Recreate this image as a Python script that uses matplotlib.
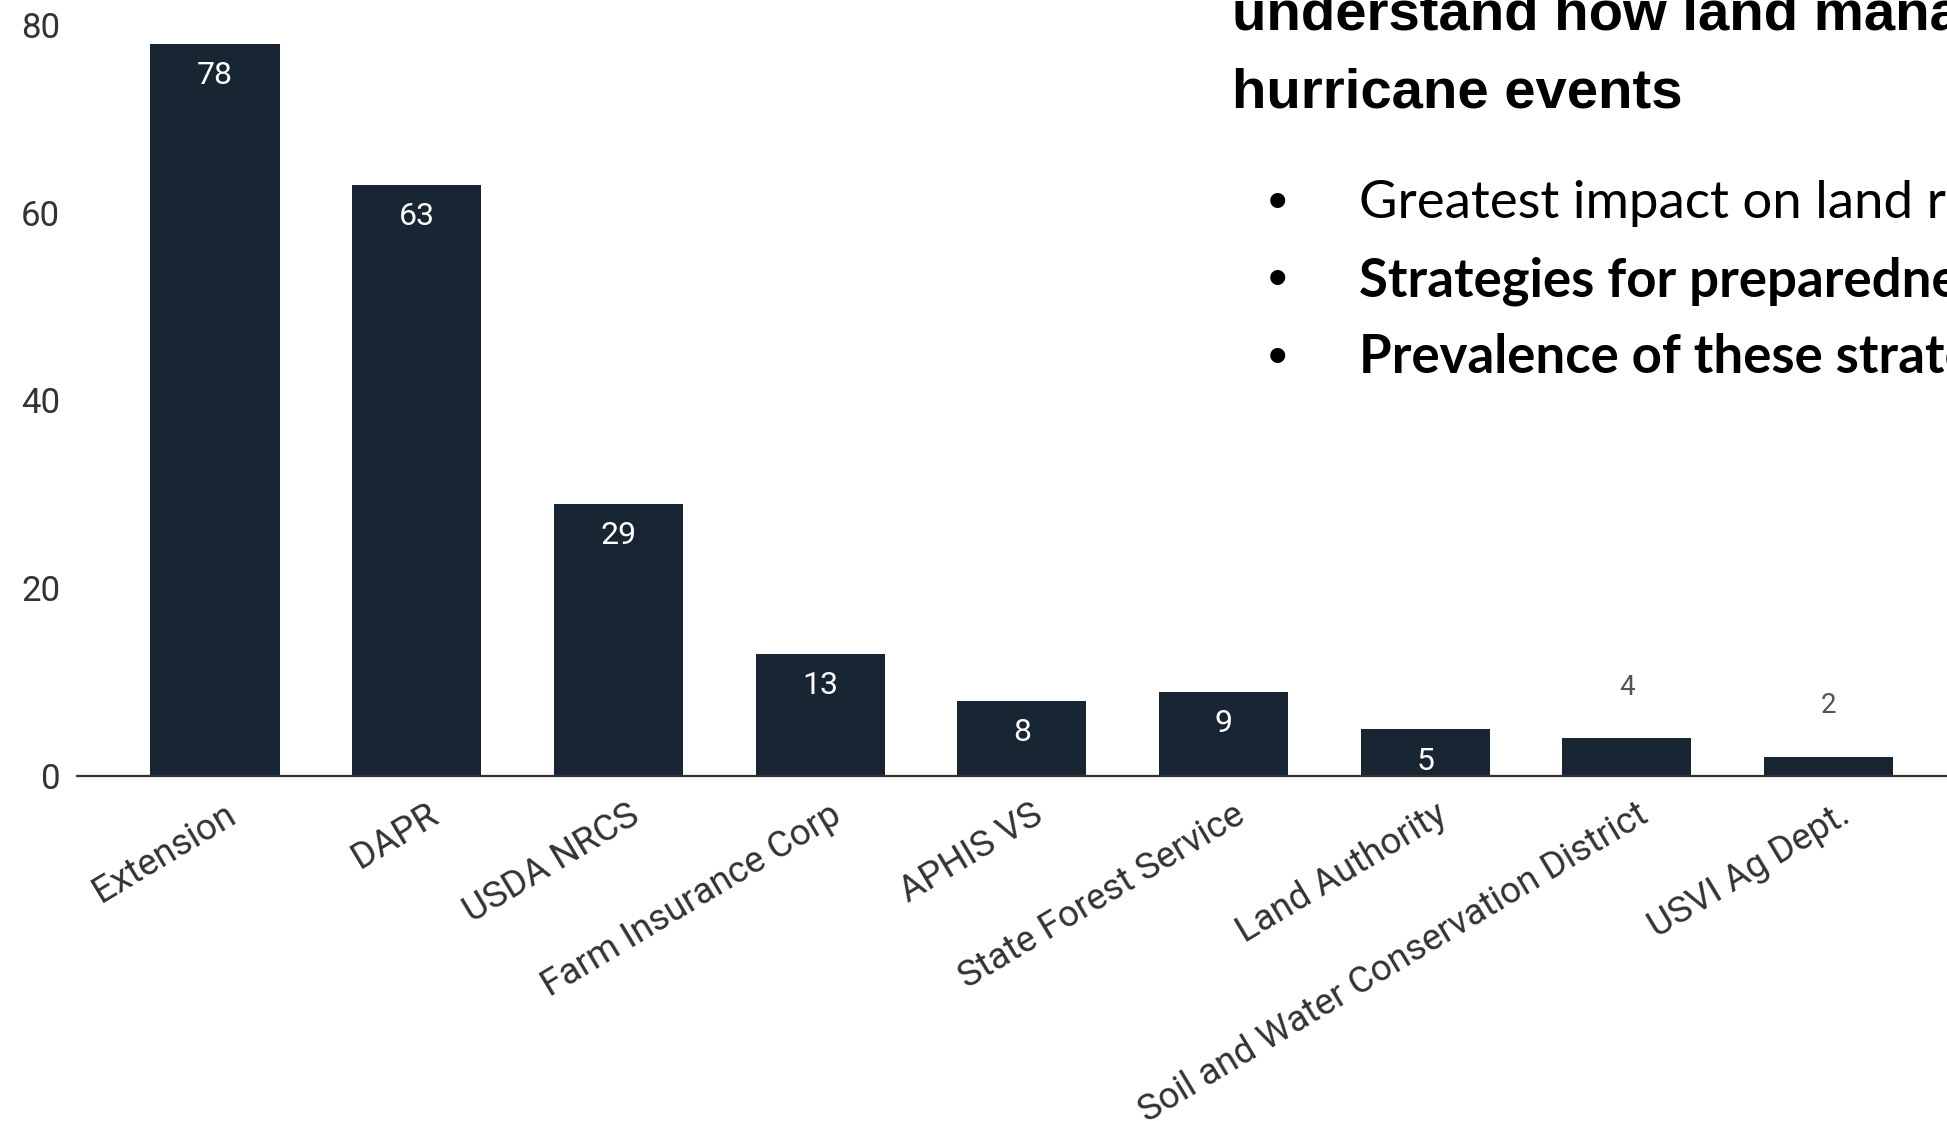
import matplotlib
matplotlib.use('Agg')
import matplotlib.pyplot as plt
import matplotlib.transforms as mtransforms

# Chart data
agencies = ['Extension', 'DAPR', 'USDA NRCS', 'Farm Insurance Corp', 'APHIS VS',
            'State Forest Service', 'Land Authority', 'Soil and Water Conservation District',
            'USVI Ag Dept.']
counts = [78, 63, 29, 13, 8, 9, 5, 4, 2]
y_ticks = [0, 20, 40, 60, 80]

# Slide text to the right of the chart
title_lines = ['understand how land managers prepare for', 'hurricane events']
bullets = ['Greatest impact on land resources',
           'Strategies for preparedness and recovery',
           'Prevalence of these strategies']
bullet_bold = [False, True, True]

W, H = 1947, 1121
fig = plt.figure(figsize=(W / 100, H / 100), dpi=100)
fig.patch.set_facecolor('white')

bar_color = '#182634'
text_color = '#333333'

# axes: left edge at the baseline start, bottom at the zero line
ax = fig.add_axes([77 / W, 1 - 776 / H, 1 - 77 / W, 776 / H])
x = list(range(len(agencies)))
ax.bar(x, counts, width=0.64, color=bar_color)

ax.set_xlim(-0.684, 8.587)
ax.set_ylim(0, 82.66)

for sp in ['top', 'right', 'left']:
    ax.spines[sp].set_visible(False)
ax.spines['bottom'].set_color(text_color)
ax.spines['bottom'].set_linewidth(1.6)

ax.set_yticks(y_ticks)
ax.set_yticklabels([str(t) for t in y_ticks], fontsize=25, color=text_color,
                   family='Roboto')
ax.tick_params(axis='y', length=0, pad=12)

ax.set_xticks(x)
ax.set_xticklabels(agencies, rotation=31, ha='right', va='top', rotation_mode='anchor',
                   fontsize=26.5, color=text_color, family='Roboto')
ax.tick_params(axis='x', length=0, pad=15)
shift = mtransforms.ScaledTranslation(0.09, 0, fig.dpi_scale_trans)
for lab in ax.get_xticklabels():
    lab.set_transform(lab.get_transform() + shift)

# value labels: inside the bar when it is tall enough, above otherwise
for xi, v in zip(x, counts):
    if v >= 5:
        ax.annotate(str(v), (xi, v), xytext=(0, -23), textcoords='offset points',
                    ha='center', va='center', color='white', fontsize=23, family='Roboto')
    else:
        ax.annotate(str(v), (xi, v), xytext=(0, 37), textcoords='offset points',
                    ha='center', va='center', color='#555555', fontsize=20, family='Roboto')

# title (partly cut off by the slide crop)
title_base = [30, 107]
for line, yb in zip(title_lines, title_base):
    fig.text(1232 / W, 1 - yb / H, line, ha='left', va='baseline', fontsize=40.5,
             fontweight='bold', family='Liberation Sans', color='black')

# bullet list
bullet_centers = [205, 282, 360]
text_base = [218, 296, 373]
for txt, bold, yc, yb in zip(bullets, bullet_bold, bullet_centers, text_base):
    fig.text(1278 / W, 1 - yc / H, '\u2022', ha='center', va='center', fontsize=40,
             family='Liberation Sans', color='black')
    fig.text(1359 / W, 1 - yb / H, txt, ha='left', va='baseline', fontsize=38,
             fontweight='bold' if bold else 'normal', family='Lato', color='black')

fig.savefig('out.png', dpi=100)
